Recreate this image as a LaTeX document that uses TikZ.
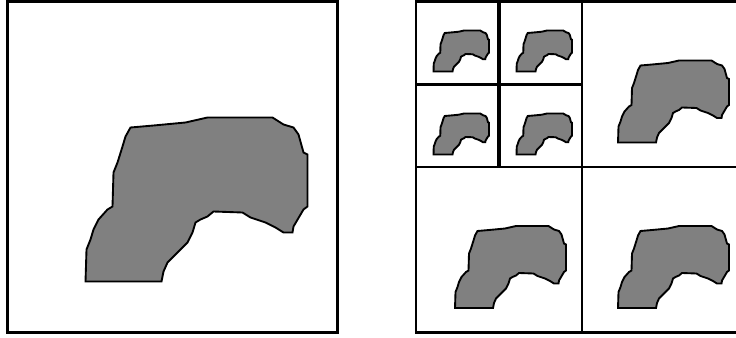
\documentclass[tikz,border=0pt]{standalone}
\usepackage{tikz}

% outline of the grey region, in pixels of the big square
\newcommand{\blobpath}{(123,126) -- (146,124) -- (178,121) -- (200,116) -- (265,116) -- (276,123) -- (286,126) -- (291,133) -- (296,151) -- (300,153) -- (300,205) -- (296,208) -- (286,225) -- (285,231) -- (276,231) -- (268,226) -- (258,221) -- (243,216) -- (235,211) -- (206,210) -- (200,215) -- (193,218) -- (188,221) -- (185,231) -- (180,241) -- (173,248) -- (166,255) -- (160,261) -- (156,270) -- (154,280) -- (78,280) -- (79,248) -- (83,238) -- (86,228) -- (91,218) -- (100,208) -- (105,205) -- (106,171) -- (110,161) -- (115,145) -- (118,135) -- cycle}

\begin{document}
\begin{tikzpicture}[
    x=0.03cm, y=-0.03cm,
    frame/.style={draw, line width=2.4pt},
    split/.style={draw, line width=1.6pt},
    splitthick/.style={draw, line width=2.8pt},
    blob/.style={fill=gray, draw=black, line width=1.6pt, line join=miter}
]
\useasboundingbox (0,0) rectangle (736,337);
\clip (0,0) rectangle (736,337);

% Left square
\draw[frame] (7.5,1.5) rectangle (337.5,332.5);
\path[blob, shift={(7.5,1.5)}] \blobpath;

% Right square (cut off at the right edge)
\draw[frame] (416,1.5) rectangle (748,332.5);
\draw[split] (582,1.5) -- (582,332.5) (416,167) -- (748,167);
\draw[splitthick] (499,1.5) -- (499,167) (416,84.5) -- (582,84.5);

% Scaled copies in the cells
\foreach \cx/\cy/\s in {579/2.5/0.5, 416/168/0.5, 579/168/0.5,
    414/1.5/0.25, 497/1.5/0.25, 414/84.5/0.25, 497/84.5/0.25}
  \path[blob, shift={(\cx,\cy)}, scale=\s] \blobpath;
\end{tikzpicture}
\end{document}
